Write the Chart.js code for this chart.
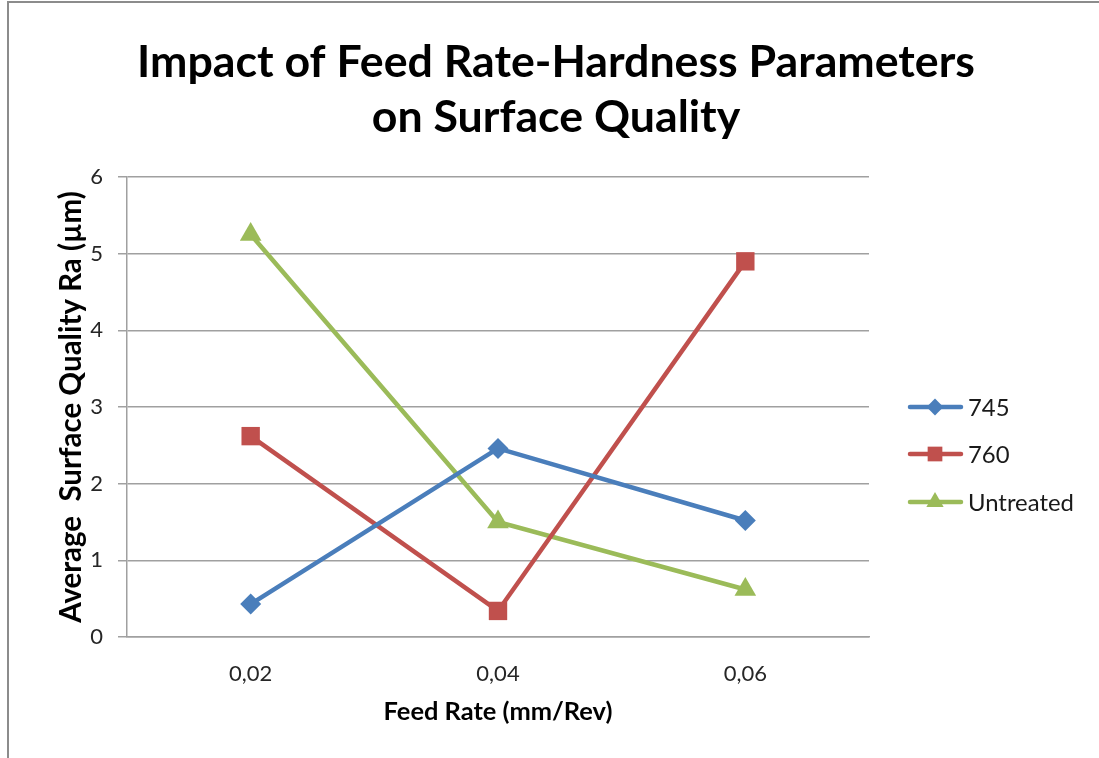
<!DOCTYPE html>
<html>
<head>
<meta charset="utf-8">
<script src="https://cdn.jsdelivr.net/npm/chart.js"></script>
<style>
  html, body { margin: 0; padding: 0; background: #fff; }
  #chart { display: block; }
</style>
</head>
<body>
<canvas id="chart" width="1099" height="758"></canvas>
<script>
const titleLines = ['Impact of Feed Rate-Hardness Parameters', 'on Surface Quality'];
const feedRates = ['0,02', '0,04', '0,06'];
const seriesNames = ['745', '760', 'Untreated'];
const ra745 = [0.43, 2.46, 1.52];
const ra760 = [2.62, 0.34, 4.90];
const raUntreated = [5.25, 1.50, 0.62];
const yTicks = [0, 1, 2, 3, 4, 5, 6];

const FONT = 'Lato, "Open Sans", sans-serif';
const colors = ['#4a7ebb', '#c0504d', '#9bbb59'];
const styles = ['rectRot', 'rect', 'triangle'];
const radii = [10.5, 13, 12.5];

// size a text so it spans a given width
function fitSize(text, width, weight) {
    const c = document.createElement('canvas').getContext('2d');
    c.font = weight + ' 100px ' + FONT;
    return 100 * width / c.measureText(text).width;
}

const titleSize = fitSize(titleLines[0], 838, 'bold');
const yTitleSize = fitSize('Average  Surface Quality Ra (µm)', 432, 'bold');
const xTitleSize = fitSize('Feed Rate (mm/Rev)', 229, 'bold');
const legendSize = fitSize('Untreated', 106, 'normal');

function marker(ctx, style, x, y, r, color) {
    ctx.save();
    ctx.fillStyle = color;
    ctx.beginPath();
    if (style === 'rectRot') {
        ctx.moveTo(x - r, y); ctx.lineTo(x, y - r); ctx.lineTo(x + r, y); ctx.lineTo(x, y + r);
    } else if (style === 'rect') {
        const s = r * Math.SQRT1_2;
        ctx.rect(x - s, y - s, 2 * s, 2 * s);
    } else {
        ctx.moveTo(x, y - r);
        ctx.lineTo(x + r * 0.866, y + r * 0.5);
        ctx.lineTo(x - r * 0.866, y + r * 0.5);
    }
    ctx.closePath();
    ctx.fill();
    ctx.restore();
}

const decor = {
    id: 'decor',
    beforeDraw(chart) {
        const ctx = chart.ctx;
        ctx.save();
        ctx.fillStyle = '#ffffff';
        ctx.fillRect(0, 0, chart.width, chart.height);
        // outer chart frame
        ctx.strokeStyle = '#8c8c8c';
        ctx.lineWidth = 2;
        ctx.beginPath();
        ctx.moveTo(8, chart.height);
        ctx.lineTo(8, 2);
        ctx.lineTo(chart.width, 2);
        ctx.stroke();
        // title
        ctx.fillStyle = '#000';
        ctx.textAlign = 'center';
        ctx.textBaseline = 'alphabetic';
        ctx.font = 'bold ' + titleSize + 'px ' + FONT;
        ctx.fillText(titleLines[0], 556, 77);
        ctx.fillText(titleLines[1], 556, 132);
        ctx.restore();
    },
    afterDraw(chart) {
        const ctx = chart.ctx;
        const rows = [407, 454, 502];
        ctx.save();
        chart.data.datasets.forEach((ds, i) => {
            const y = rows[i];
            ctx.strokeStyle = ds.borderColor;
            ctx.lineWidth = 4.5;
            ctx.lineCap = 'round';
            ctx.beginPath();
            ctx.moveTo(910, y);
            ctx.lineTo(961, y);
            ctx.stroke();
            marker(ctx, ds.pointStyle, 935, y, ds.pointRadius * 0.8, ds.borderColor);
            ctx.fillStyle = '#1a1a1a';
            ctx.font = legendSize + 'px ' + FONT;
            ctx.textAlign = 'left';
            ctx.textBaseline = 'middle';
            ctx.fillText(ds.label, 968, y + 1);
        });
        ctx.restore();
    }
};

const seriesData = [ra745, ra760, raUntreated];

new Chart(document.getElementById('chart'), {
    type: 'line',
    data: {
        labels: feedRates,
        datasets: seriesNames.map((name, i) => ({
            label: name,
            data: seriesData[i],
            borderColor: colors[i],
            backgroundColor: colors[i],
            pointBackgroundColor: colors[i],
            pointBorderWidth: 0,
            pointStyle: styles[i],
            pointRadius: radii[i],
            pointHoverRadius: radii[i],
            borderWidth: 4.5,
            tension: 0
        }))
    },
    options: {
        responsive: false,
        devicePixelRatio: 1,
        animation: false,
        layout: { padding: { top: 177, right: 230, left: 0, bottom: 0 } },
        plugins: {
            legend: { display: false },
            title: { display: false },
            tooltip: { enabled: false }
        },
        scales: {
            x: {
                offset: true,
                afterFit(scale) { scale.height = 121; },
                grid: { display: false, drawTicks: false, tickLength: 0 },
                border: { display: true, color: '#a0a0a0', width: 1.5 },
                ticks: { color: '#262626', font: { family: FONT, size: 22 }, padding: 24 },
                title: {
                    display: true,
                    text: 'Feed Rate (mm/Rev)',
                    color: '#000',
                    font: { family: FONT, size: xTitleSize, weight: 'bold' },
                    padding: { top: 0, bottom: 31 }
                }
            },
            y: {
                min: 0,
                max: 6,
                afterFit(scale) { scale.width = 127; },
                afterBuildTicks(scale) { scale.ticks = yTicks.map(v => ({ value: v })); },
                grid: { color: '#a0a0a0', lineWidth: 1.5, tickLength: 9, drawTicks: true },
                border: { display: true, color: '#a0a0a0', width: 1.5 },
                ticks: { color: '#262626', font: { family: FONT, size: 22 }, padding: 15 },
                title: {
                    display: true,
                    text: 'Average  Surface Quality Ra (µm)',
                    color: '#000',
                    font: { family: FONT, size: yTitleSize, weight: 'bold' },
                    padding: { top: 54, bottom: 0 }
                }
            }
        }
    },
    plugins: [decor]
});
</script>
</body>
</html>
